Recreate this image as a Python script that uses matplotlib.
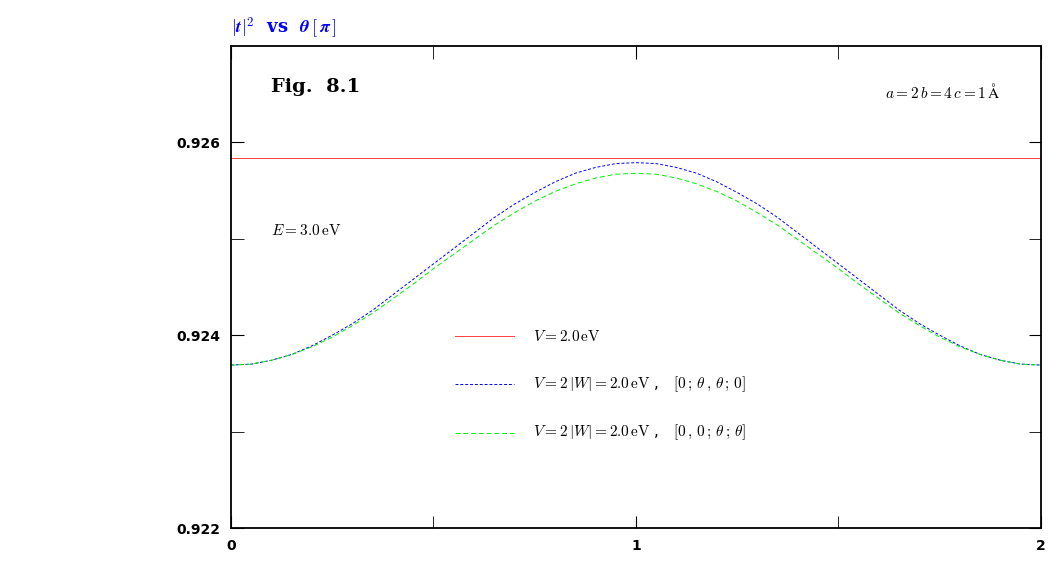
import matplotlib
matplotlib.use('Agg')
import matplotlib.pyplot as plt

theta = [0.0, 0.05, 0.1, 0.15, 0.2, 0.25, 0.3, 0.35, 0.4, 0.45, 0.5, 0.55, 0.6, 0.65, 0.7, 0.75,
         0.8, 0.85, 0.9, 0.95, 1.0]
blue_half = [0.92369, 0.92370, 0.92374, 0.92380, 0.92389, 0.92400, 0.92412, 0.92426, 0.92442, 0.92458,
             0.92474, 0.92490, 0.92506, 0.92522, 0.92536, 0.92548, 0.92559, 0.92568, 0.92574, 0.92578, 0.92579]
green_half = [0.92369, 0.92370, 0.92374, 0.92380, 0.92388, 0.92398, 0.92410, 0.92423, 0.92438, 0.92453,
              0.92469, 0.92484, 0.92499, 0.92514, 0.92527, 0.92539, 0.92549, 0.92557, 0.92563, 0.92567, 0.92568]
theta = theta + [2.0 - v for v in theta[-2::-1]]
t_blue = blue_half + blue_half[-2::-1]
t_green = green_half + green_half[-2::-1]
t_red = [0.92584] * len(theta)
labels = [r'$V = 2.0\,\mathrm{eV}$',
          r'$V = 2\,|W| = 2.0\,\mathrm{eV}$ ,   $[0\,;\,\theta\,,\,\theta\,;\,0]$',
          r'$V = 2\,|W| = 2.0\,\mathrm{eV}$ ,   $[0\,,\,0\,;\,\theta\,;\,\theta]$']

plt.rcParams['mathtext.fontset'] = 'cm'
fig = plt.figure(figsize=(10.63, 5.72), dpi=100)
ax = fig.add_axes([0.2173, 0.0769, 0.762, 0.8427])
ax.plot(theta, t_red, color='#ff4040', lw=0.7)
ax.plot(theta, t_blue, color='blue', lw=0.7, ls=(0, (3, 2)))
ax.plot(theta, t_green, color='#00ee00', lw=0.7, ls=(0, (5, 3)))
ax.set_xlim(0, 2)
ax.set_ylim(0.922, 0.927)
ax.set_xticks([0, 1, 2])
ax.set_xticklabels(['0', '1', '2'])
ax.set_xticks([0.5, 1.5], minor=True)
ax.set_yticks([0.922, 0.924, 0.926])
ax.set_yticklabels(['0.922', '0.924', '0.926'])
ax.set_yticks([0.923, 0.925], minor=True)
ax.tick_params(which='both', direction='in', top=True, right=True, length=9, labelsize=10, pad=8)
for lab in ax.get_xticklabels() + ax.get_yticklabels():
    lab.set_fontweight('bold')
    lab.set_fontfamily('DejaVu Sans')
for s in ax.spines.values():
    s.set_linewidth(1.3)

# legend drawn by hand
leg_x = [0.276, 0.350]
for i, (c, ls) in enumerate([('#ff4040', '-'), ('blue', (0, (3, 2))), ('#00ee00', (0, (5, 3)))]):
    yy = [0.398 - i * 0.1] * 2
    ax.plot(leg_x, yy, color=c, lw=0.7, ls=ls, transform=ax.transAxes)
    ax.text(0.373, yy[0], labels[i], transform=ax.transAxes, va='center', fontsize=11)

ax.text(0.05, 0.915, 'Fig.  8.1', transform=ax.transAxes, fontsize=14, va='center',
        fontweight='bold', fontfamily='DejaVu Serif')
ax.text(0.05, 0.617, r'$E = 3.0\,\mathrm{eV}$', transform=ax.transAxes, fontsize=11, va='center')
ax.text(0.95, 0.905, r'$a = 2\,b = 4\,c = 1\,\mathrm{\AA}$', transform=ax.transAxes,
        fontsize=11, ha='right', va='center')
fig.text(0.2173, 0.95, r'$\boldsymbol{|t|^2}$  vs  $\boldsymbol{\theta\,[\,\pi\,]}$', color='blue',
         fontsize=13, va='center', fontweight='bold', fontfamily='DejaVu Serif')
fig.savefig('out.png', dpi=100)
